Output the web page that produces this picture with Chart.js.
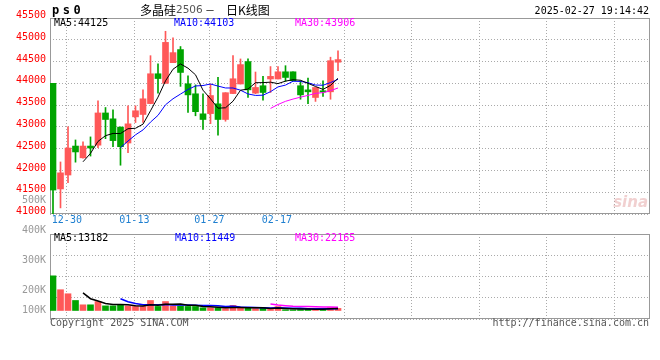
<!DOCTYPE html>
<html>
<head>
<meta charset="utf-8">
<script src="https://cdn.jsdelivr.net/npm/chart.js@4.4.1/dist/chart.umd.min.js"></script>
<style>
  html, body { margin: 0; padding: 0; background: #fff; }
  #wrap { position: relative; width: 660px; height: 360px; overflow: hidden; }
  #wrap canvas { position: absolute; left: 0; top: 0; }
</style>
</head>
<body>
<div id="wrap">
  <canvas id="priceCanvas" width="660" height="360"></canvas>
  <canvas id="volumeCanvas" width="660" height="360"></canvas>
</div>
<script>
// 多晶硅2506 日K 数据
const dates = ['12-26', '12-27', '12-30', '12-31', '01-02', '01-03', '01-06', '01-07', '01-08', '01-09',
               '01-10', '01-13', '01-14', '01-15', '01-16', '01-17', '01-20', '01-21', '01-22', '01-23',
               '01-24', '01-27', '02-05', '02-06', '02-07', '02-10', '02-11', '02-12', '02-13', '02-14',
               '02-17', '02-18', '02-19', '02-20', '02-21', '02-24', '02-25', '02-26', '02-27'];
const opens  = [44000, 41575, 41895, 42560, 42290, 42560, 42580, 43320, 43185, 42995,
                42630, 43230, 43285, 43535, 44220, 44000, 44475, 44775, 43990, 43760,
                43300, 43305, 43530, 43170, 43765, 43985, 44500, 43775, 43945, 44100,
                44100, 44265, 44265, 43945, 43850, 43675, 43830, 43805, 44485];
const highs  = [44000, 42195, 43000, 42700, 42655, 42770, 43600, 43445, 43390, 43000,
                43485, 43485, 43850, 44635, 44445, 45195, 45045, 44845, 44175, 43965,
                43760, 43985, 44135, 43785, 44635, 44560, 44560, 44260, 44160, 44385,
                44385, 44405, 44265, 44060, 44120, 43905, 44060, 44600, 44745];
const lows   = [41000, 41140, 41720, 42190, 42280, 42330, 42525, 42730, 42545, 42120,
                42410, 43100, 43100, 43530, 43775, 44000, 44475, 43930, 43330, 43255,
                42940, 43075, 42810, 43130, 43765, 43985, 43675, 43760, 43615, 43790,
                44100, 44045, 44060, 43635, 43535, 43585, 43700, 43635, 44290];
const closes = [41550, 41945, 42515, 42425, 42560, 42515, 43320, 43170, 42685, 42545,
                43070, 43370, 43645, 44220, 44110, 44940, 44705, 44250, 43735, 43350,
                43170, 43720, 43170, 43785, 44105, 44430, 43850, 43905, 43790, 44160,
                44265, 44135, 44060, 43735, 43805, 43905, 43800, 44520, 44545];
const volumes = [232000, 139000, 112000, 67000, 38000, 38000, 60000, 31000, 31000, 38000,
                 31000, 27000, 27000, 67000, 27000, 60000, 31000, 31000, 27000, 27000,
                 18000, 18000, 18000, 13000, 34000, 15000, 15000, 13000, 18000, 7000,
                 26000, 5000, 5000, 5600, 12000, 10000, 11000, 19000, 13900];

// 坐标轴文字
const xTickLabels = ['12-30', '01-13', '01-27', '02-17'];
const priceTicks = [41000, 41500, 42000, 42500, 43000, 43500, 44000, 44500, 45000, 45500];
const volTickLabels = ['500K', '400K', '300K', '200K', '100K'];
const maPeriods = [5, 10, 30];
const priceMaText = ['MA5:44125', 'MA10:44103', 'MA30:43906'];
const volMaText = ['MA5:13182', 'MA10:11449', 'MA30:22165'];

// 颜色
const upColor = '#ff5858';
const downColor = '#00a400';
const maColors = ['#000000', '#0000ff', '#ff00ff'];
const gridColor = '#aaaaaa';
const frameColor = '#999999';
const monoFont = "'DejaVu Sans Mono', monospace";

Chart.defaults.font.family = monoFont;
Chart.defaults.font.size = 10;

// x 轴: 每根K线一个单位, 图区 50..650 像素
const xMin = -0.4, xMax = 79.6, gridStep = 9, gridShift = -0.15;
const gridIdx = xTickLabels.map(d => dates.indexOf(d));
while (gridIdx[gridIdx.length - 1] + gridStep <= xMax) {
    gridIdx.push(gridIdx[gridIdx.length - 1] + gridStep);
}

function movingAverage(values, n) {
    return values.map((v, i) => {
        if (i < n - 1) return null;
        let s = 0;
        for (let k = i - n + 1; k <= i; k++) s += values[k];
        return s / n;
    });
}

const idx = dates.map((d, i) => i);
const barColor = i => (closes[i] >= opens[i] ? upColor : downColor);

function maDatasets(values, width) {
    return maPeriods.map((n, k) => ({
        type: 'line',
        label: 'MA' + n,
        data: movingAverage(values, n).map((v, i) => ({ x: i, y: v })).filter(p => p.y !== null),
        borderColor: maColors[k],
        borderWidth: width,
        pointRadius: 0,
        tension: 0,
        order: 0
    }));
}

function drawText(ctx, text, x, y, color, font, align) {
    ctx.font = font;
    ctx.fillStyle = color;
    ctx.textAlign = align || 'left';
    ctx.textBaseline = 'middle';
    ctx.fillText(text, x, y);
}

function drawFrame(ctx, a) {
    ctx.strokeStyle = frameColor;
    ctx.lineWidth = 1;
    ctx.strokeRect(a.left + 0.5, a.top + 0.5, a.right - a.left - 1, a.bottom - a.top - 1);
}

function xScaleOptions(showLabels) {
    return {
        type: 'linear',
        min: xMin,
        max: xMax,
        offset: false,
        grid: { color: gridColor, drawTicks: false, offset: false },
        border: { display: false, dash: [1, 2] },
        ticks: {
            display: showLabels,
            color: '#1e7fd0',
            padding: 0,
            autoSkip: false,
            maxRotation: 0,
            callback: (v, i) => xTickLabels[i] || ''
        },
        afterBuildTicks: s => { s.ticks = gridIdx.map(v => ({ value: v + gridShift })); },
        afterFit: s => { s.height = showLabels ? 20 : 0; }
    };
}

// 价格图 (K线)
const pricePlugin = {
    id: 'priceDecor',
    beforeDatasetsDraw(chart) {
        drawFrame(chart.ctx, chart.chartArea);
    },
    afterDraw(chart) {
        const ctx = chart.ctx;
        ctx.save();
        // 左上角 ps0
        'ps0'.split('').forEach((c, i) => drawText(ctx, c, 52 + i * 10.7, 11, '#000', 'bold 12px ' + monoFont));
        // 标题
        drawText(ctx, '多晶硅', 140, 10, '#000', "12px 'Noto Sans CJK SC'");
        drawText(ctx, '2506', 176, 10, '#555', '10.5px "DejaVu Sans"');
        drawText(ctx, '－', 205, 10, '#000', "10px 'Noto Sans CJK SC'");
        drawText(ctx, '日K线图', 226, 10, '#000', "12px 'Noto Sans CJK SC'");
        drawText(ctx, '2025-02-27 19:14:42', 649, 11, '#000', '10px ' + monoFont, 'right');
        // 均线数值
        const maX = [54, 174, 295];
        priceMaText.forEach((t, k) => drawText(ctx, t, maX[k], 23.5, maColors[k], '10px ' + monoFont));
        // 新浪水印
        drawText(ctx, 'sina', 648, 203, 'rgba(225,150,150,0.45)', 'italic bold 15px "DejaVu Sans"', 'right');
        ctx.restore();
    }
};

new Chart(document.getElementById('priceCanvas'), {
    type: 'bar',
    data: {
        datasets: [
            ...maDatasets(closes, 1),
            {
                label: 'body',
                data: idx.map(i => ({ x: i, y: [opens[i], closes[i]] })),
                backgroundColor: c => barColor(c.dataIndex),
                barThickness: 6,
                grouped: false,
                order: 1
            },
            {
                label: 'wick',
                data: idx.map(i => ({ x: i, y: [lows[i], highs[i]] })),
                backgroundColor: c => barColor(c.dataIndex),
                barThickness: 1,
                grouped: false,
                order: 2
            }
        ]
    },
    options: {
        responsive: false,
        animation: false,
        devicePixelRatio: 1,
        layout: { padding: { left: 0, right: 10, top: 18, bottom: 126 } },
        plugins: { legend: { display: false }, tooltip: { enabled: false } },
        scales: {
            x: xScaleOptions(true),
            y: {
                min: priceTicks[0],
                max: priceTicks[priceTicks.length - 1],
                beginAtZero: false,
                grid: { color: gridColor, drawTicks: false },
                border: { display: false, dash: [1, 2] },
                ticks: {
                    stepSize: priceTicks[1] - priceTicks[0],
                    color: '#ff0000',
                    padding: 4,
                    labelOffset: -2.5,
                    autoSkip: false,
                    callback: v => String(v)
                },
                afterFit: s => { s.width = 50; }
            }
        }
    },
    plugins: [pricePlugin]
});

// 成交量图
const volumePlugin = {
    id: 'volumeDecor',
    beforeDatasetsDraw(chart) {
        drawFrame(chart.ctx, chart.chartArea);
    },
    afterDraw(chart) {
        const ctx = chart.ctx;
        ctx.save();
        const maX = [54, 175, 295];
        volMaText.forEach((t, k) => drawText(ctx, t, maX[k], 238.5, maColors[k], '10px ' + monoFont));
        // 成交量刻度: 按标签刻度排布, 最下一个贴在零线上
        const base = chart.scales.y.getPixelForValue(0);
        volTickLabels.forEach(t => {
            const py = Math.min(chart.scales.vlab.getPixelForValue(parseFloat(t)), base);
            drawText(ctx, t, 46, py, '#999999', '10px ' + monoFont, 'right');
        });
        drawText(ctx, 'Copyright 2025 SINA.COM', 50, 323.5, '#555555', '10px ' + monoFont);
        drawText(ctx, 'http://finance.sina.com.cn', 649, 323.5, '#555555', '10px ' + monoFont, 'right');
        ctx.restore();
    }
};

new Chart(document.getElementById('volumeCanvas'), {
    type: 'bar',
    data: {
        datasets: [
            ...maDatasets(volumes, 1.5),
            {
                label: 'volume',
                data: idx.map(i => ({ x: i, y: volumes[i] })),
                backgroundColor: c => barColor(c.dataIndex),
                barThickness: 6,
                grouped: false,
                order: 1
            }
        ]
    },
    options: {
        responsive: false,
        animation: false,
        devicePixelRatio: 1,
        layout: { padding: { left: 0, right: 10, top: 234, bottom: 41 } },
        plugins: { legend: { display: false }, tooltip: { enabled: false } },
        scales: {
            x: xScaleOptions(false),
            y: {
                min: -57000,
                max: 512000,
                grid: { color: gridColor, drawTicks: false },
                border: { display: false, dash: [1, 2] },
                ticks: { display: false, stepSize: 142250 },
                afterFit: s => { s.width = 50; }
            },
            vlab: {
                type: 'linear',
                position: 'left',
                display: false,
                min: 105.7,
                max: 389.0
            }
        }
    },
    plugins: [volumePlugin]
});
</script>
</body>
</html>
